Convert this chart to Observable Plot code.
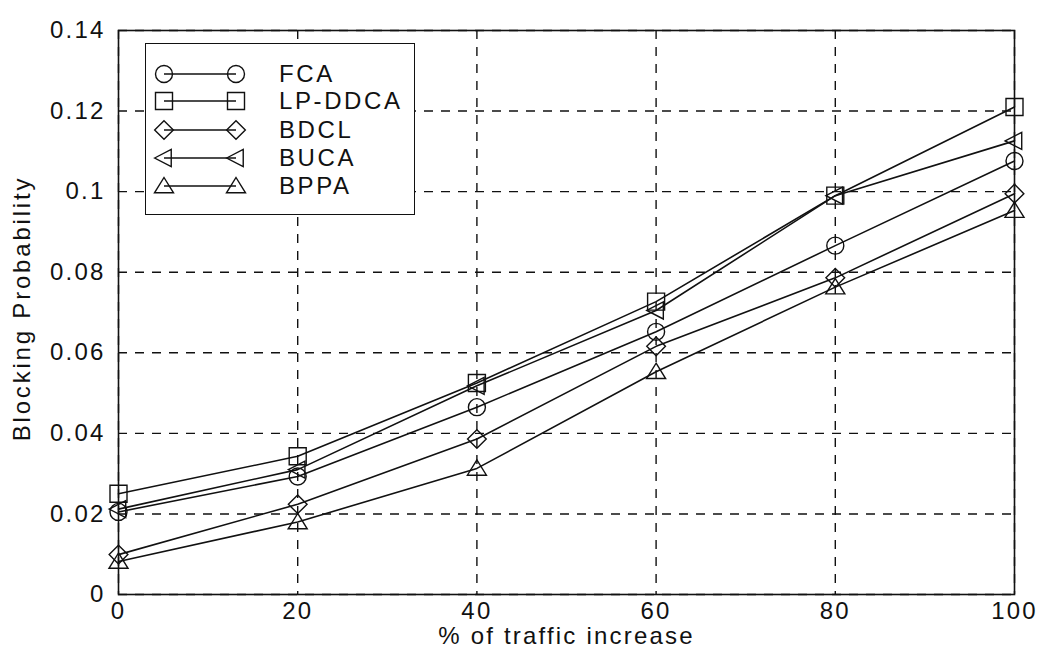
<!DOCTYPE html>
<html>
<head>
<meta charset="utf-8">
<script src="https://cdn.jsdelivr.net/npm/d3@7"></script>
<script src="https://cdn.jsdelivr.net/npm/@observablehq/plot@0.6"></script>
<style>
  html, body { margin: 0; padding: 0; background: #fff; }
  #wrap { position: relative; width: 1039px; height: 658px; font-family: "Liberation Sans", Arial, sans-serif; }
  #legend { position: absolute; left: 145px; top: 43px; width: 268px; height: 170px; border: 1.6px solid #111; background: #fff; }
  .row { position: absolute; left: 0; height: 28px; width: 268px; }
  .row svg { position: absolute; left: 0; top: 0; }
  .row span { position: absolute; left: 133px; top: 1px; font-size: 24px; letter-spacing: 2.6px; color: #111; line-height: 26px; }
</style>
</head>
<body>
<div id="wrap"><div id="legend"></div></div>
<script>
const traffic = [0, 20, 40, 60, 80, 100];
const seriesNames = ["FCA", "LP-DDCA", "BDCL", "BUCA", "BPPA"];
const fca    = [0.0205, 0.0293, 0.0465, 0.0652, 0.0866, 0.1076];
const lpddca = [0.0250, 0.0343, 0.0525, 0.0727, 0.0990, 0.1210];
const bdcl   = [0.0099, 0.0224, 0.0386, 0.0616, 0.0786, 0.0995];
const buca   = [0.0212, 0.0310, 0.0518, 0.0705, 0.0990, 0.1126];
const bppa   = [0.0082, 0.0180, 0.0313, 0.0553, 0.0763, 0.0953];
const xTicks = [0, 20, 40, 60, 80, 100];
const yTicks = [0, 0.02, 0.04, 0.06, 0.08, 0.10, 0.12, 0.14];

const seriesValues = [fca, lpddca, bdcl, buca, bppa];

// marker shapes
const shapeFns = [
  (c, r) => { c.moveTo(r, 0); c.arc(0, 0, r, 0, 2 * Math.PI); c.closePath(); },
  (c, r) => { c.rect(-r, -r, 2 * r, 2 * r); },
  (c, r) => { const a = r * 1.1; c.moveTo(0, -a); c.lineTo(a, 0); c.lineTo(0, a); c.lineTo(-a, 0); c.closePath(); },
  (c, r) => { c.moveTo(-r * 1.1, 0); c.lineTo(r * 0.85, -r); c.lineTo(r * 0.85, r); c.closePath(); },
  (c, r) => { c.moveTo(0, -r * 1.0); c.lineTo(r * 1.12, r * 0.8); c.lineTo(-r * 1.12, r * 0.8); c.closePath(); }
];
const symbols = shapeFns.map(fn => ({ draw(ctx, size) { fn(ctx, Math.sqrt(size / Math.PI)); } }));

const rows = [];
seriesNames.forEach((name, i) => {
  seriesValues[i].forEach((v, j) => rows.push({ series: name, x: traffic[j], y: v }));
});

const fmt = d => String(+d.toFixed(2));
const font = "'Liberation Sans', Arial, sans-serif";

const marks = [
  Plot.gridX(xTicks, { stroke: "#111", strokeOpacity: 1, strokeWidth: 1.4, strokeDasharray: "9,8" }),
  Plot.gridY(yTicks, { stroke: "#111", strokeOpacity: 1, strokeWidth: 1.4, strokeDasharray: "9,8" }),
  Plot.axisX(xTicks, { tickSize: 0, tickPadding: 7, fontSize: 24, label: null, tickFormat: d => String(d), className: "tk" }),
  Plot.axisY(yTicks, { tickSize: 0, tickPadding: 13, fontSize: 24, label: null, tickFormat: fmt, className: "tk" }),
  Plot.text(["% of traffic increase"], { frameAnchor: "bottom", dy: 42, dx: 0, fontSize: 24, textAnchor: "middle", lineAnchor: "middle", fill: "#111", className: "xl" }),
  Plot.text(["Blocking Probability"], { frameAnchor: "left", dx: -96, dy: -4, rotate: -90, fontSize: 24, textAnchor: "middle", lineAnchor: "middle", fill: "#111", className: "yl" })
];
seriesNames.forEach((name, i) => {
  const data = rows.filter(d => d.series === name);
  marks.push(Plot.line(data, { x: "x", y: "y", stroke: "#111", strokeWidth: 1.6 }));
  marks.push(Plot.dot(data, { x: "x", y: "y", symbol: symbols[i], r: 8.5, stroke: "#111", strokeWidth: 1.4, fill: "none" }));
});
marks.push(Plot.frame({ stroke: "#111", strokeWidth: 1.6 }));

const chart = Plot.plot({
  width: 1039,
  height: 658,
  marginLeft: 118,
  marginRight: 25,
  marginTop: 30,
  marginBottom: 64,
  style: { fontFamily: font, background: "#fff", color: "#111", overflow: "visible" },
  x: { domain: [0, 100] },
  y: { domain: [0, 0.14] },
  marks
});
chart.querySelectorAll(".tk text").forEach(t => t.style.letterSpacing = "2.2px");
chart.querySelectorAll(".xl text").forEach(t => t.style.letterSpacing = "2.2px");
chart.querySelectorAll(".yl text").forEach(t => t.style.letterSpacing = "2.8px");
const wrap = document.getElementById("wrap");
wrap.insertBefore(chart, wrap.firstChild);

// legend
const legend = document.getElementById("legend");
const rowTops = [16, 43, 72, 100, 128];
seriesNames.forEach((name, i) => {
  const row = document.createElement("div");
  row.className = "row";
  row.style.top = rowTops[i] + "px";
  const svg = d3.create("svg").attr("width", 120).attr("height", 28);
  svg.append("line").attr("x1", 18).attr("x2", 90).attr("y1", 14).attr("y2", 14).attr("stroke", "#111").attr("stroke-width", 1.6);
  [18, 90].forEach(cx => {
    const p = d3.path();
    shapeFns[i](p, 8.5);
    svg.append("path").attr("d", p.toString()).attr("transform", `translate(${cx},14)`).attr("fill", "none").attr("stroke", "#111").attr("stroke-width", 1.4);
  });
  row.appendChild(svg.node());
  const span = document.createElement("span");
  span.textContent = name;
  row.appendChild(span);
  legend.appendChild(row);
});
</script>
</body>
</html>
